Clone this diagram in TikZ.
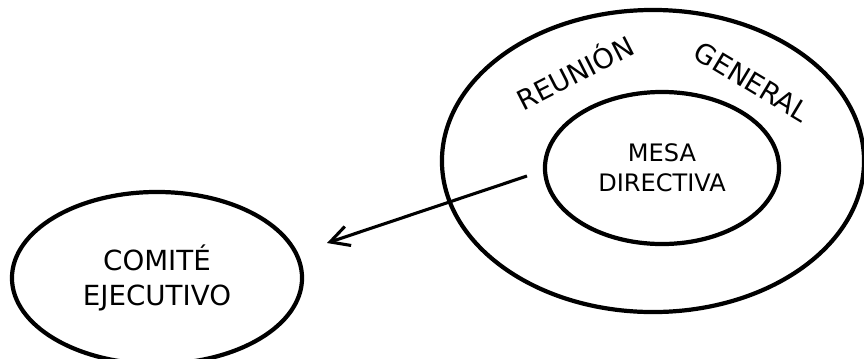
\documentclass[tikz,border=0pt]{standalone}
\usepackage{fontspec}
\setmainfont{DejaVu Sans}
\usepackage{tikz}
\usetikzlibrary{shapes.geometric,arrows.meta}

\begin{document}
\begin{tikzpicture}[x=0.025cm,y=-0.025cm,
		elipse/.style={ellipse, draw, line width=3pt, inner sep=0pt, align=center},
		rotulo/.style={font=\fontsize{19.5}{24}\selectfont, anchor=mid}]
		\useasboundingbox (0,0) rectangle (864,358);
		\node[elipse, minimum width=10.55cm, minimum height=7.55cm] (reunion) at (653,161) {};
		\node[elipse, minimum width=5.85cm, minimum height=3.8cm, font=\fontsize{17.1}{21.4}\selectfont] (mesa) at (662,168) {MESA\\DIRECTIVA};
		\node[elipse, minimum width=7.25cm, minimum height=4.3cm, font=\fontsize{19.7}{24.7}\selectfont] (comite) at (157,278) {COMITÉ\\EJECUTIVO};
		\node[rotulo, rotate=27] (reu) at (578,79) {REUNIÓN};
		\node[rotulo, rotate=-31] (gen) at (749,87) {GENERAL};
		\coordinate (desde) at (527,176);
		\coordinate (hacia) at (327,243);
		\draw[line width=2.2pt, -{Straight Barb[length=4.7mm,width=5mm]}] (desde) -- (hacia);
	\end{tikzpicture}
\end{document}
